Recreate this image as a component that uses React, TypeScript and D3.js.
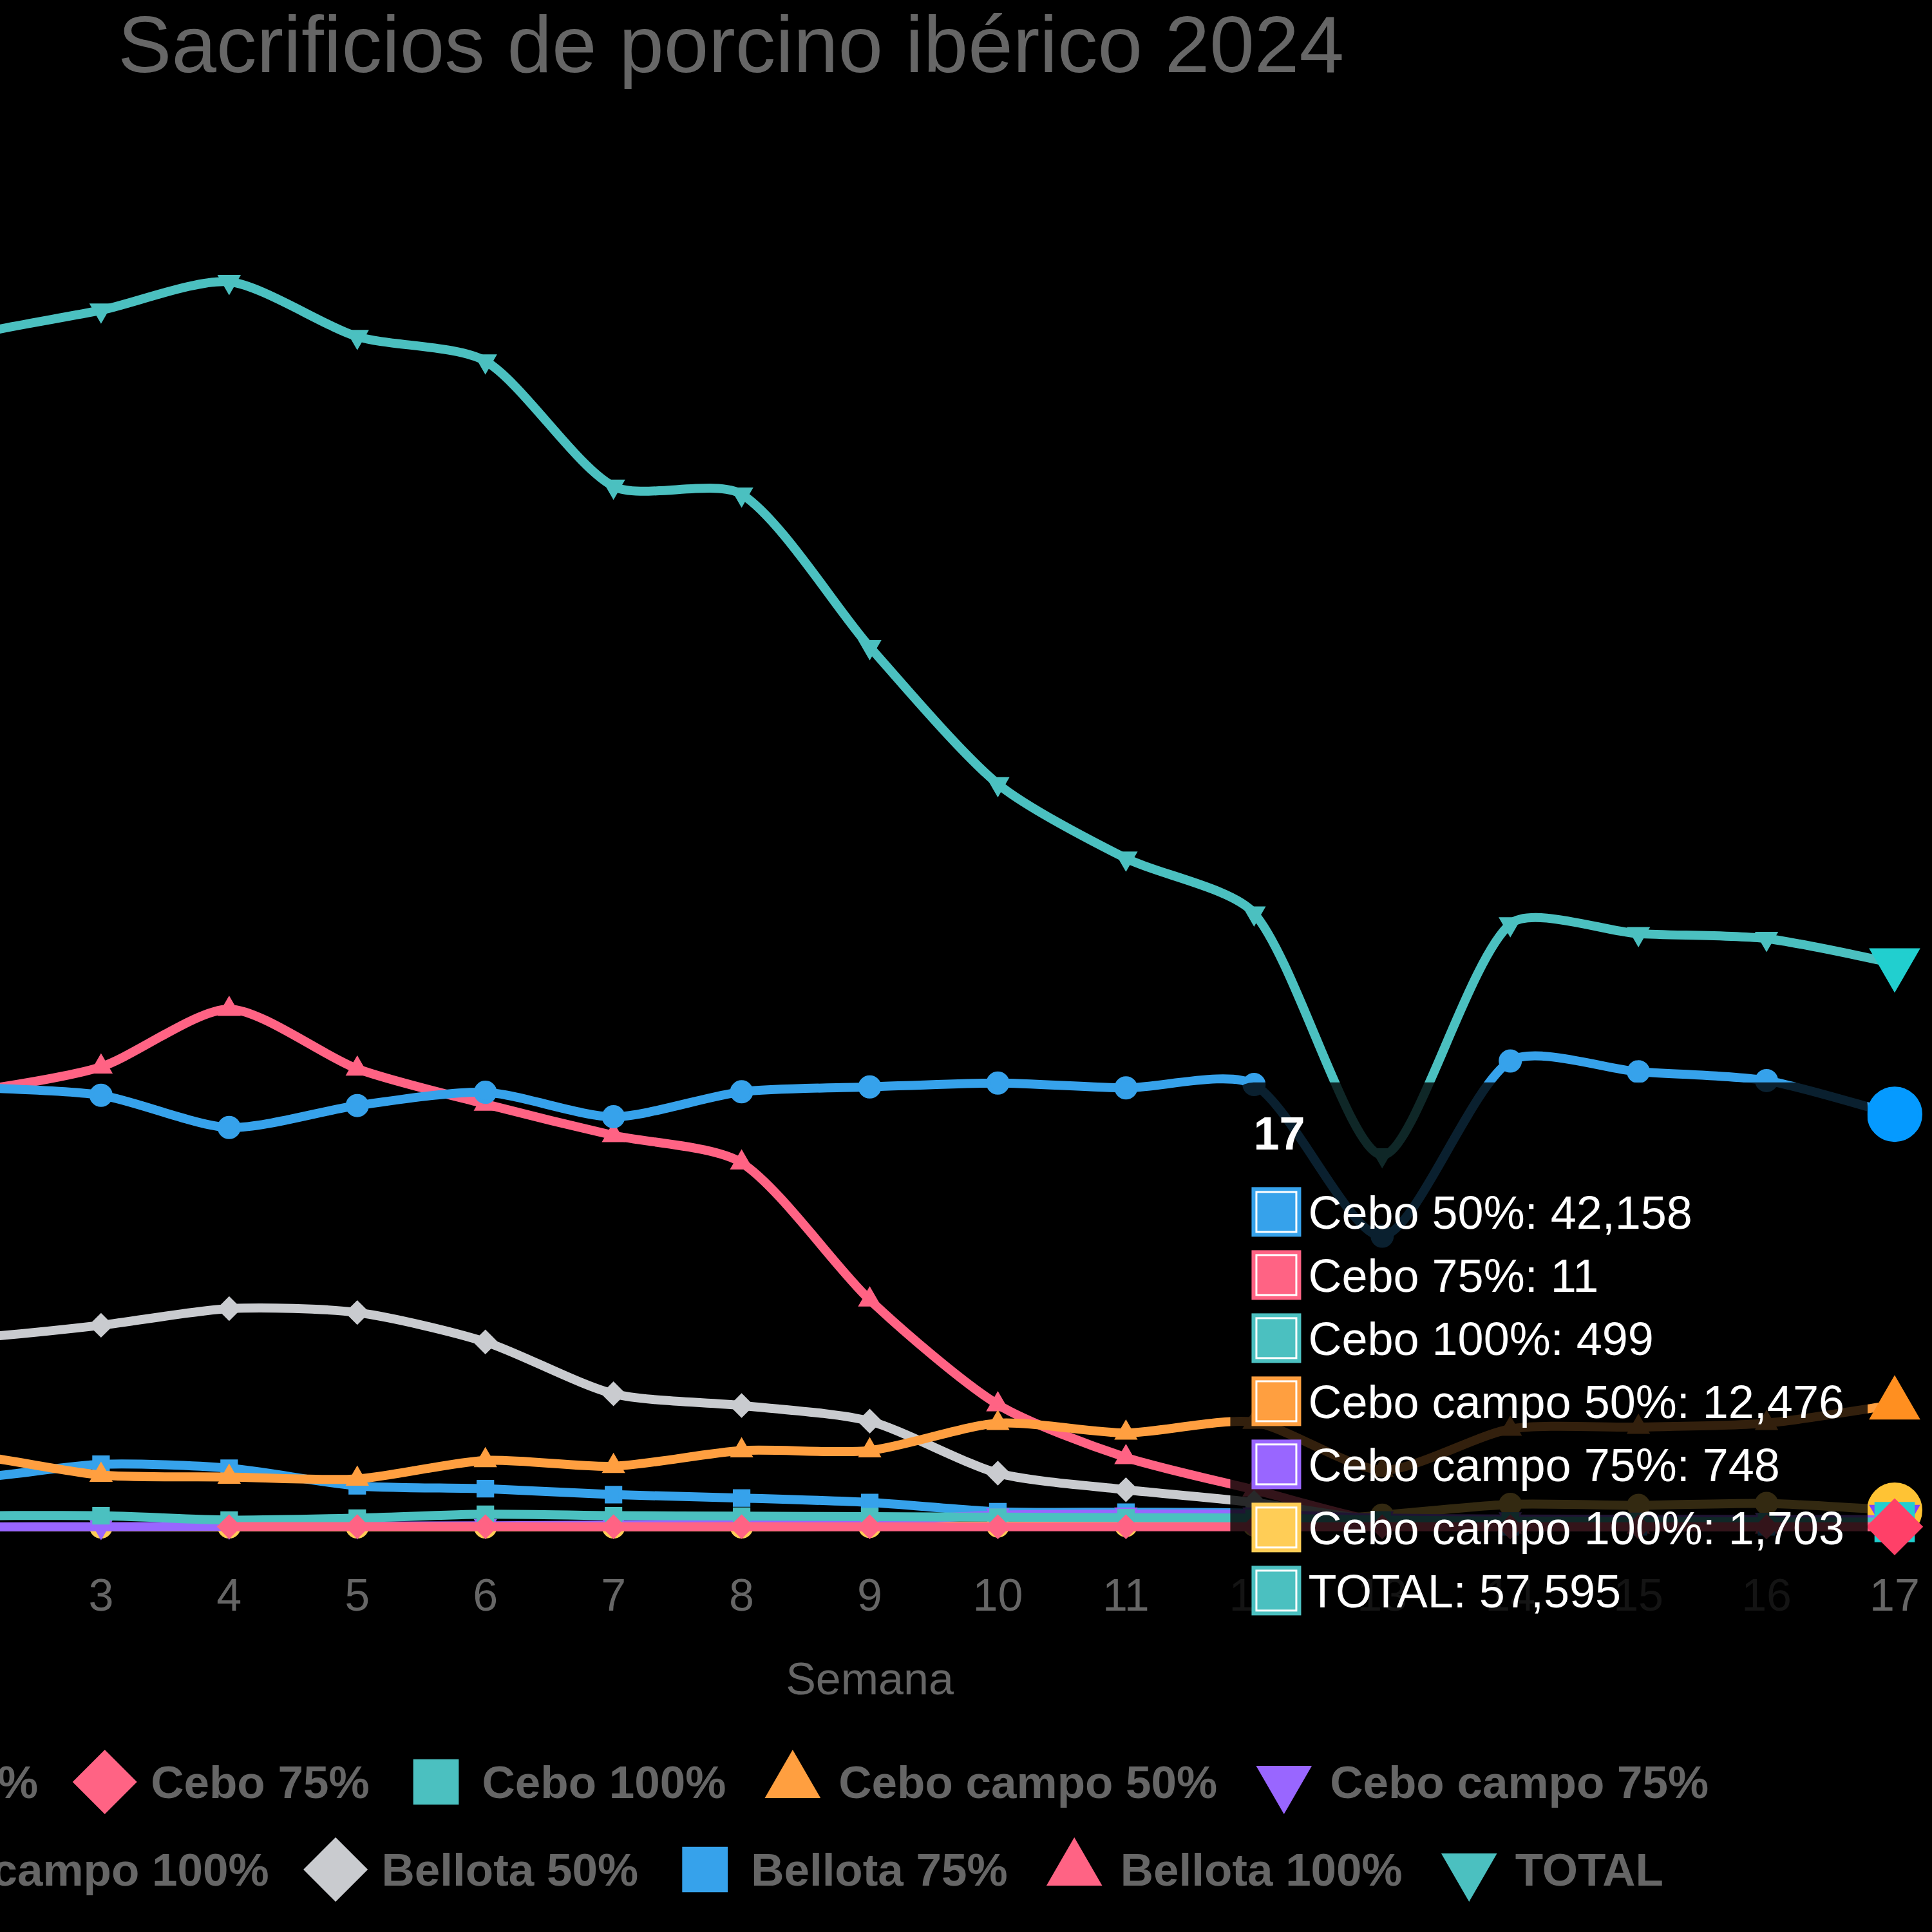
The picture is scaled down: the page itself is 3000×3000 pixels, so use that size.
import * as d3 from "d3"

// Weekly slaughter counts, Iberian pig, 2024
const weeks = ["1", "2", "3", "4", "5", "6", "7", "8", "9", "10", "11", "12", "13", "14", "15", "16", "17"]

const cebo50 = [45500, 44900, 44100, 40800, 43050, 44400, 41900, 44450, 44950, 45350, 44850, 45200, 29700, 47600, 46500, 45600, 42158]
const cebo75 = [null, null, null, 25, 30, 25, 20, 25, 20, 15, 20, 15, 12, 14, 12, 12, 11]
const cebo100 = [1200, 1150, 1150, 700, 900, 1300, 1150, 1100, 1050, 1000, 950, 900, 700, 600, 550, 520, 499]
const campo50 = [7800, 7300, 5300, 5100, 4900, 6800, 6200, 7800, 7800, 10600, 9600, 10700, 5800, 10000, 10200, 10600, 12476]
const campo75 = [0, 0, 20, 50, 80, 120, 200, 350, 600, 1200, 1300, 1300, 900, 800, 780, 760, 748]
const campo100 = [0, 0, 0, 0, 0, 0, 0, 0, 50, 100, 150, 200, 1200, 2300, 2200, 2400, 1703]
const bellota50 = [18500, 19300, 20600, 22300, 21900, 18900, 13600, 12400, 10800, 5500, 3800, 2500, 600, 0, 0, 0, null]
const bellota75 = [5000, 5000, 6400, 6000, 4200, 3900, 3300, 2950, 2500, 1550, 1500, 1380, 300, 0, 0, 0, null]
const bellota100 = [43000, 44500, 47000, 52900, 46800, 43200, 40000, 37200, 23200, 12500, 7100, 3800, 500, 0, 0, 0, null]
const total = [118000, 121800, 124300, 127200, 121600, 119100, 106300, 105500, 89900, 75900, 68300, 62700, 38000, 61600, 60600, 60100, 57595]

const seriesNames = [
  "Cebo 50%",
  "Cebo 75%",
  "Cebo 100%",
  "Cebo campo 50%",
  "Cebo campo 75%",
  "Cebo campo 100%",
  "Bellota 50%",
  "Bellota 75%",
  "Bellota 100%",
  "TOTAL"
]
const seriesValues: (number | null)[][] = [cebo50, cebo75, cebo100, campo50, campo75, campo100, bellota50, bellota75, bellota100, total]

const palette = ["#36A2EB", "#FF6384", "#4BC0C0", "#FF9F40", "#9966FF", "#FFCD56", "#C9CBCF"]
const pointStyles = ["circle", "rectRot", "rect", "triangle", "triangleDown"]

const chartTitle = "Sacrificios de porcino ibérico 2024"
const xTitle = "Semana"
const hoverWeek = "17"

const FONT = "'Liberation Sans', Arial, Helvetica, sans-serif"
const GREY = "#666"

const x = d3.scalePoint<string>().domain(weeks).range([-241, 2942])
const y = d3.scaleLinear().domain([0, 140000]).range([2371, 243])

// chart.js style spline: distance weighted control points, kept inside the plot area
function splineCurve(tension: number) {
  const [x0, x1] = x.range()
  const [yb, yt] = y.range()
  const clampX = (v: number) => Math.max(x0, Math.min(x1, v))
  const clampY = (v: number) => Math.max(yt, Math.min(yb, v))
  return (context: any) => {
    let pts: [number, number][] = []
    return {
      areaStart() {},
      areaEnd() {},
      lineStart() {
        pts = []
      },
      point(px: number, py: number) {
        pts.push([px, py])
      },
      lineEnd() {
        const n = pts.length
        if (!n) return
        context.moveTo(pts[0][0], pts[0][1])
        if (n === 1) {
          context.lineTo(pts[0][0], pts[0][1])
          return
        }
        const cps = pts.map((p, i) => {
          const prev = pts[i - 1] ?? p
          const next = pts[i + 1] ?? p
          const d01 = Math.hypot(p[0] - prev[0], p[1] - prev[1])
          const d12 = Math.hypot(next[0] - p[0], next[1] - p[1])
          const s01 = d01 + d12 ? d01 / (d01 + d12) : 0
          const s12 = d01 + d12 ? d12 / (d01 + d12) : 0
          const fa = tension * s01
          const fb = tension * s12
          const w = next[0] - prev[0]
          const h = next[1] - prev[1]
          const inside = p[1] >= yt && p[1] <= yb
          const cx = (v: number) => (inside ? clampX(v) : v)
          const cy = (v: number) => (inside ? clampY(v) : v)
          return {
            prev: [cx(p[0] - fa * w), cy(p[1] - fa * h)],
            next: [cx(p[0] + fb * w), cy(p[1] + fb * h)]
          }
        })
        for (let i = 1; i < n; i++) {
          context.bezierCurveTo(cps[i - 1].next[0], cps[i - 1].next[1], cps[i].prev[0], cps[i].prev[1], pts[i][0], pts[i][1])
        }
      }
    }
  }
}

const line = d3
  .line<number | null>()
  .defined(v => v != null)
  .x((_, i) => x(weeks[i]) ?? 0)
  .y(v => y(v as number))
  .curve(splineCurve(0.25) as any)

// same tweak chart.js applies to hovered points
function hoverColor(c: string) {
  const h = d3.hsl(c)
  h.s = Math.min(1, h.s * 1.5)
  h.l = h.l * 0.9
  return h.formatHex()
}

function markerPath(style: string, r: number) {
  const p = d3.path()
  const k = Math.sqrt(3) / 2
  switch (style) {
    case "circle":
      p.moveTo(r, 0)
      p.arc(0, 0, r, 0, Math.PI * 2)
      break
    case "rect": {
      const s = Math.SQRT1_2 * r
      p.rect(-s, -s, 2 * s, 2 * s)
      break
    }
    case "rectRot":
      p.moveTo(-r, 0)
      p.lineTo(0, -r)
      p.lineTo(r, 0)
      p.lineTo(0, r)
      p.closePath()
      break
    case "triangle":
      p.moveTo(0, -r)
      p.lineTo(r * k, r / 2)
      p.lineTo(-r * k, r / 2)
      p.closePath()
      break
    case "triangleDown":
      p.moveTo(0, r)
      p.lineTo(r * k, -r / 2)
      p.lineTo(-r * k, -r / 2)
      p.closePath()
      break
  }
  return p.toString()
}

const measureCtx = document.createElement("canvas").getContext("2d")
function textWidth(text: string, font: string) {
  if (!measureCtx) return text.length * 40
  measureCtx.font = font
  return measureCtx.measureText(text).width
}

const fmt = d3.format(",")

const App = () => {
  const series = seriesNames.map((name, i) => ({
    name,
    values: seriesValues[i],
    color: palette[i % palette.length],
    style: pointStyles[i % pointStyles.length]
  }))

  const hi = weeks.indexOf(hoverWeek)
  const px = x(hoverWeek) ?? 0
  const active = series.filter(s => s.values[hi] != null)

  // legend, two centred rows
  const legendFontSize = 71
  const legendFont = `bold ${legendFontSize}px ${FONT}`
  const legendBox = 71
  const legendGap = 36
  const legendPad = 68
  const legendCx = 1133
  const legendRows = [series.slice(0, 5), series.slice(5)]
  const legendRowY = [2767, 2903]
  const legendItems = legendRows.flatMap((row, r) => {
    const widths = row.map(s => legendBox + legendGap + textWidth(s.name, legendFont))
    const rowW = d3.sum(widths) + legendPad * (row.length - 1)
    let cursor = legendCx - rowW / 2
    return row.map((s, j) => {
      const item = { s, mx: cursor + legendBox / 2, tx: cursor + legendBox + legendGap, cy: legendRowY[r] }
      cursor += widths[j] + legendPad
      return item
    })
  })

  // tooltip for the hovered week
  const tipFontSize = 72
  const tipPad = 36
  const tipLine = 86
  const tipSpacing = 12
  const tipBox = 71
  const caret = 30
  const tipLabels = active.map(s => `${s.name}: ${fmt(s.values[hi] as number)}`)
  const tipTextW = d3.max(tipLabels, l => textWidth(l, `${tipFontSize}px ${FONT}`)) ?? 0
  const tipW = tipPad * 2 + tipBox + 14 + tipTextW
  const tipH = tipPad * 3 + tipLine * (active.length + 1) + tipSpacing * (active.length - 1)
  const avgY = d3.mean(active, s => y(s.values[hi] as number)) ?? 0
  const tipRight = px - 12 - caret
  const tipLeft = tipRight - tipW
  const tipTop = avgY - tipH / 2 - 6
  const rowMid = (i: number) => tipTop + tipPad * 2 + tipLine + i * (tipLine + tipSpacing) + tipLine / 2

  const tipShape = d3.path()
  const rr = 36
  tipShape.moveTo(tipLeft + rr, tipTop)
  tipShape.lineTo(tipRight - rr, tipTop)
  tipShape.arcTo(tipRight, tipTop, tipRight, tipTop + rr, rr)
  tipShape.lineTo(tipRight, avgY - caret)
  tipShape.lineTo(tipRight + caret, avgY)
  tipShape.lineTo(tipRight, avgY + caret)
  tipShape.lineTo(tipRight, tipTop + tipH - rr)
  tipShape.arcTo(tipRight, tipTop + tipH, tipRight - rr, tipTop + tipH, rr)
  tipShape.lineTo(tipLeft + rr, tipTop + tipH)
  tipShape.arcTo(tipLeft, tipTop + tipH, tipLeft, tipTop + tipH - rr, rr)
  tipShape.lineTo(tipLeft, tipTop + rr)
  tipShape.arcTo(tipLeft, tipTop, tipLeft + rr, tipTop, rr)
  tipShape.closePath()

  // chart.js paints the first dataset last, so it ends up on top
  const drawOrder = [...series].reverse()

  return (
    <svg
      width={3000}
      height={3000}
      style={{ position: "absolute", left: 0, top: 0, display: "block" }}
      fontFamily={FONT}
    >
      <rect width={3000} height={3000} fill="#000" />

      <text x={1135} y={112} textAnchor="middle" fontSize={125} fill={GREY}>
        {chartTitle}
      </text>

      <g fontSize={70} fill={GREY} textAnchor="middle">
        {weeks.map(w => (
          <text key={w} x={x(w)} y={2501}>
            {w}
          </text>
        ))}
        <text x={(x.range()[0] + x.range()[1]) / 2} y={2631}>
          {xTitle}
        </text>
      </g>

      {drawOrder.map(s => (
        <g key={s.name}>
          <path d={line(s.values) ?? ""} fill="none" stroke={s.color} strokeWidth={14} />
          {s.values.map((v, i) =>
            v == null || i === hi ? null : (
              <path
                key={i}
                d={markerPath(s.style, 15)}
                transform={`translate(${x(weeks[i])},${y(v)})`}
                fill={s.color}
                stroke={s.color}
                strokeWidth={6}
              />
            )
          )}
          {s.values[hi] != null && (
            <path
              d={markerPath(s.style, 40)}
              transform={`translate(${px},${y(s.values[hi] as number)})`}
              fill={hoverColor(s.color)}
              stroke={hoverColor(s.color)}
              strokeWidth={6}
            />
          )}
        </g>
      ))}

      <g>
        {legendItems.map(({ s, mx, tx, cy }) => (
          <g key={s.name}>
            <path d={markerPath(s.style, 50)} transform={`translate(${mx},${cy})`} fill={s.color} />
            <text x={tx} y={cy + 25} fontSize={legendFontSize} fontWeight="bold" fill={GREY}>
              {s.name}
            </text>
          </g>
        ))}
      </g>

      <g>
        <path d={tipShape.toString()} fill="rgba(0,0,0,0.8)" />
        <text
          x={tipLeft + tipPad}
          y={tipTop + tipPad + tipLine / 2 + 25}
          fontSize={tipFontSize}
          fontWeight="bold"
          fill="#fff"
        >
          {hoverWeek}
        </text>
        {active.map((s, i) => {
          const mid = rowMid(i)
          const bx = tipLeft + tipPad
          return (
            <g key={s.name}>
              <rect x={bx} y={mid - tipBox / 2} width={tipBox} height={tipBox} fill="#fff" stroke={s.color} strokeWidth={6} />
              <rect x={bx + 6} y={mid - tipBox / 2 + 6} width={tipBox - 12} height={tipBox - 12} fill={s.color} />
              <text x={bx + tipBox + 14} y={mid + 26} fontSize={tipFontSize} fill="#fff">
                {tipLabels[i]}
              </text>
            </g>
          )
        })}
      </g>
    </svg>
  )
}

export default App
